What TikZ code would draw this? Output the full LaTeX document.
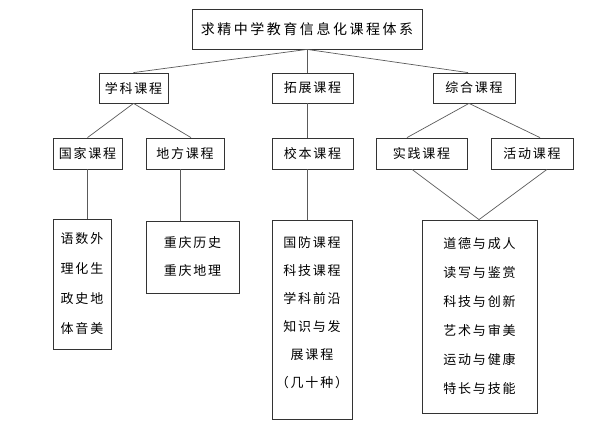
\documentclass[tikz,border=0pt]{standalone}
\usepackage{fontspec}
\usepackage{xcolor}
\usetikzlibrary{positioning, math}
\newfontfamily\cjk{Noto Sans CJK SC}[LetterSpace=14]
\newfontfamily\cjktitle{Noto Sans CJK SC}[LetterSpace=18]
\definecolor{lgray}{RGB}{90,90,90}

\begin{document}
\begin{tikzpicture}[x=1pt,y=-1pt,
  box/.style={draw=black!80, line width=0.8, inner sep=0pt, align=center,
    font=\cjk\fontsize{13}{29}\selectfont},
  link/.style={draw=lgray, line width=0.7}]
\tikzmath{
\h=30;
\hh=31;
}
\useasboundingbox (0,0) rectangle (600,430);

%title:
 \node[box, minimum width=230, minimum height=40, font=\cjktitle\fontsize{14}{16}\selectfont] (top) at (307,29) {求精中学教育信息化课程体系};
%second row
 \node[box, minimum width=69, minimum height=\h] (xueke) at (133.5,88) {学科课程};
 \node[box, minimum width=81, minimum height=\h] (tuozhan) at (312.5,88) {拓展课程};
 \node[box, minimum width=82, minimum height=\h] (zonghe) at (474,88) {综合课程};
%third row
 \node[box, minimum width=69, minimum height=\hh] (guojia) at (87.5,153.5) {国家课程};
 \node[box, minimum width=78, minimum height=\hh] (difang) at (185,153.5) {地方课程};
 \node[box, minimum width=81, minimum height=\hh] (xiaoben) at (312.5,153.5) {校本课程};
 \node[box, minimum width=91, minimum height=\hh] (shijian) at (421.5,153.5) {实践课程};
 \node[box, minimum width=82, minimum height=\hh] (huodong) at (532,153.5) {活动课程};
%lists
 \node[box, minimum width=58, minimum height=130, font=\cjk\fontsize{13}{30}\selectfont] (guojiaL) at (82,284) {语数外\\理化生\\政史地\\体音美};
 \node[box, minimum width=93, minimum height=72, font=\cjk\fontsize{13}{28}\selectfont] (difangL) at (192.5,257) {重庆历史\\重庆地理};
 \node[box, minimum width=80, minimum height=199, text depth=15, font=\cjk\fontsize{13}{28}\selectfont] (xiaobenL) at (312,319.5) {国防课程\\科技课程\\学科前沿\\知识与发\\展课程\\（几十种）};
 \node[box, minimum width=115, minimum height=193] (zongheL) at (479.5,316.5) {道德与成人\\读写与鉴赏\\科技与创新\\艺术与审美\\运动与健康\\特长与技能};

%links
 \draw[link] (top.south) -- (xueke.north);
 \draw[link] (top.south) -- (top.south |- tuozhan.north);
 \draw[link] (top.south) -- ([xshift=-6]zonghe.north);
 \draw[link] (top.south |- tuozhan.south) -- (top.south |- xiaoben.north);
 \draw[link] (xueke.south) -- (guojia.north);
 \draw[link] (xueke.south) -- ([xshift=6]difang.north);
 \draw[link] ([xshift=-5]zonghe.south) -- ([xshift=-14.5]shijian.north);
 \draw[link] ([xshift=-5]zonghe.south) -- ([xshift=8]huodong.north);
 \draw[link] (guojia.south) -- (guojia.south |- guojiaL.north);
 \draw[link] ([xshift=-5]difang.south) -- ([xshift=-5]difang.south |- difangL.north);
 \draw[link] (top.south |- xiaoben.south) -- (top.south |- xiaobenL.north);
 \draw[link] ([xshift=-9.5]shijian.south) -- ([xshift=-0.5]zongheL.north);
 \draw[link] ([xshift=15]huodong.south) -- ([xshift=-0.5]zongheL.north);
\end{tikzpicture}
\end{document}
